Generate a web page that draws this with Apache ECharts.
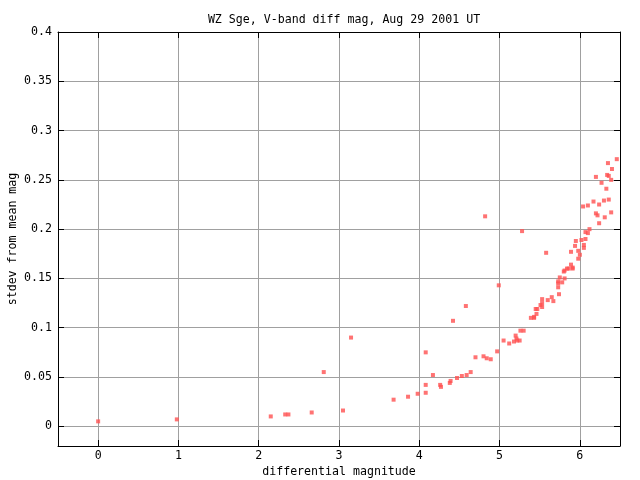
<!DOCTYPE html>
<html>
<head>
<meta charset="utf-8">
<script src="https://cdn.jsdelivr.net/npm/echarts@6/dist/echarts.min.js"></script>
<style>
html,body{margin:0;padding:0;background:#fff;}
#chart{width:640px;height:480px;}
</style>
</head>
<body>
<div id="chart"></div>
<script>
var titleText = 'WZ Sge, V-band diff mag, Aug 29 2001 UT';
var xName = 'differential magnitude';
var yName = 'stdev from mean mag';
var xTicks = [0, 1, 2, 3, 4, 5, 6];
var yTicks = [0, 0.05, 0.1, 0.15, 0.2, 0.25, 0.3, 0.35, 0.4];

var diffMag = [
  0.00, 0.98, 2.15, 2.33, 2.37, 2.66, 2.81, 3.05, 3.15, 3.68,
  3.86, 3.98, 4.08, 4.08, 4.08, 4.17, 4.26, 4.27, 4.38, 4.39,
  4.42, 4.47, 4.53, 4.58, 4.59, 4.64, 4.70, 4.80, 4.82, 4.84,
  4.89, 4.97, 4.99, 5.05, 5.12, 5.18, 5.20, 5.21, 5.22, 5.25,
  5.26, 5.30, 5.28, 5.39, 5.43, 5.43, 5.46, 5.45, 5.47, 5.51,
  5.53, 5.53, 5.53, 5.58, 5.60, 5.65, 5.67, 5.74, 5.73, 5.73,
  5.73, 5.75, 5.78, 5.80, 5.81, 5.81, 5.84, 5.86, 5.89, 5.89,
  5.91, 5.91, 5.94, 5.95, 5.98, 5.98, 6.00, 6.02, 6.05, 6.05,
  6.07, 6.07, 6.10, 6.12, 6.04, 6.10, 6.17, 6.20, 6.22, 6.24,
  6.24, 6.20, 6.27, 6.30, 6.31, 6.33, 6.34, 6.35, 6.36, 6.36,
  6.39, 6.39, 6.40, 6.46
];
var stdev = [
  0.005, 0.007, 0.010, 0.012, 0.012, 0.014, 0.055, 0.016, 0.090, 0.027,
  0.030, 0.033, 0.034, 0.042, 0.075, 0.052, 0.042, 0.040, 0.044, 0.046,
  0.107, 0.049, 0.051, 0.122, 0.052, 0.055, 0.070, 0.071, 0.213, 0.069,
  0.068, 0.076, 0.143, 0.087, 0.084, 0.086, 0.092, 0.089, 0.087, 0.087,
  0.097, 0.097, 0.198, 0.110, 0.111, 0.110, 0.114, 0.119, 0.119, 0.123,
  0.121, 0.125, 0.129, 0.176, 0.128, 0.131, 0.127, 0.134, 0.141, 0.145,
  0.147, 0.151, 0.146, 0.157, 0.150, 0.158, 0.160, 0.160, 0.164, 0.177,
  0.160, 0.161, 0.183, 0.188, 0.178, 0.170, 0.174, 0.189, 0.184, 0.181,
  0.190, 0.197, 0.196, 0.200, 0.223, 0.224, 0.228, 0.216, 0.214, 0.206,
  0.225, 0.253, 0.247, 0.229, 0.212, 0.241, 0.255, 0.267, 0.254, 0.230,
  0.250, 0.217, 0.261, 0.271
];

var points = diffMag.map(function (x, i) { return [x, stdev[i]]; });

var FONT = 'DejaVu Sans Mono';
var FS = 11.6;

function xAx(pos, showLabels) {
  return {
    type: 'value', position: pos, min: -0.5, max: 6.5,
    name: showLabels ? xName : '',
    nameLocation: 'middle', nameGap: 20, nameMoveOverlap: false,
    nameTextStyle: { fontFamily: FONT, fontSize: FS, color: '#000' },
    axisLine: { show: true, onZero: false, lineStyle: { color: '#000', width: 1 } },
    axisTick: { show: true, inside: true, length: 6, customValues: xTicks, lineStyle: { color: '#000' } },
    axisLabel: { show: showLabels, customValues: xTicks, margin: 4, fontFamily: FONT, fontSize: FS, color: '#000' },
    splitLine: { show: showLabels, lineStyle: { color: '#a0a0a0', width: 1 } }
  };
}
function yAx(pos, showLabels) {
  return {
    type: 'value', position: pos, min: -0.02, max: 0.4,
    name: showLabels ? yName : '',
    nameLocation: 'middle', nameGap: 39, nameRotate: 90, nameMoveOverlap: false,
    nameTextStyle: { fontFamily: FONT, fontSize: FS, color: '#000' },
    axisLine: { show: true, onZero: false, lineStyle: { color: '#000', width: 1 } },
    axisTick: { show: true, inside: true, length: 6, customValues: yTicks, lineStyle: { color: '#000' } },
    axisLabel: { show: showLabels, customValues: yTicks, margin: 6, fontFamily: FONT, fontSize: FS, color: '#000' },
    splitLine: { show: showLabels, lineStyle: { color: '#a0a0a0', width: 1 } }
  };
}

var chart = echarts.init(document.getElementById('chart'), null, { renderer: 'canvas' });
chart.setOption({
  animation: false,
  backgroundColor: '#fff',
  title: {
    text: titleText, left: 339, top: 9, textAlign: 'center',
    textStyle: { fontFamily: FONT, fontSize: FS, fontWeight: 'normal', color: '#000' }
  },
  grid: { left: 58, right: 20, top: 32, bottom: 34, containLabel: false, outerBoundsMode: 'none' },
  xAxis: [xAx('bottom', true), xAx('top', false)],
  yAxis: [yAx('left', true), yAx('right', false)],
  series: [{
    type: 'scatter', xAxisIndex: 0, yAxisIndex: 0,
    symbol: 'rect', symbolSize: 4,
    itemStyle: { color: '#ff5050' },
    data: points
  }]
});
</script>
</body>
</html>
